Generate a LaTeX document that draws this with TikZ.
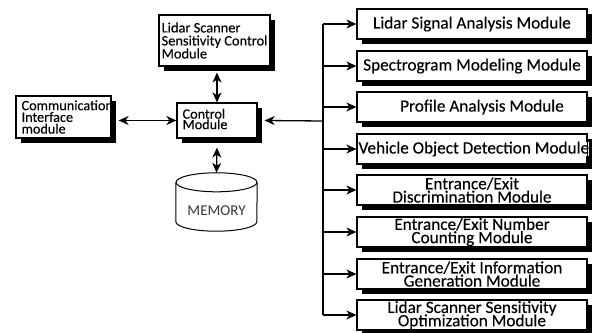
\documentclass[tikz,border=0pt]{standalone}
\usepackage{fontspec}
\setmainfont{Carlito}[FakeBold=0.2]
\newfontfamily\memfont{Carlito}
\usetikzlibrary{arrows.meta,shadows,calc}
\AtBeginDocument{\lineskiplimit=-50pt\relax}
\begin{document}
\begin{tikzpicture}[x=1pt,y=-1pt,
  box/.style={draw, line width=1.2pt, fill=white, inner sep=0pt,
    drop shadow={shadow xshift=5pt, shadow yshift=-5pt, opacity=1, fill=black}},
  modbox/.style={box, minimum width=230pt, minimum height=30pt},
  rtext/.style={font=\fontsize{17.2}{13.3}\selectfont, align=center, inner sep=0pt},
  ltext/.style={align=left, inner sep=0pt, anchor=west},
  link/.style={line width=1.3pt},
  sgl/.style={link, -{Stealth[length=10pt,width=9pt,inset=3pt]}},
  dbl/.style={link, {Stealth[length=10pt,width=9pt,inset=3pt]}-{Stealth[length=10pt,width=9pt,inset=3pt]}}
]
\useasboundingbox (0,0) rectangle (602,332);

% right-hand modules
\foreach \i/\y in {1/24,2/66,3/107,4/149,5/190,6/232,7/274,8/315}
  \node[modbox] (m\i) at (472,\y) {};
\node[rtext] (t1) at (m1) {Lidar Signal Analysis Module};
\node[rtext] (t2) at (m2) {Spectrogram Modeling Module};
\node[rtext] (t3) at ($(m3)+(10,0)$) {Profile Analysis Module};
\node[rtext, anchor=west, fill=white] (t4) at ($(m4.west)+(2,0)$) {Vehicle Object Detection Module};
\draw[line width=1.2pt] (m4.north east) -- (m4.south east);
\node[rtext] (t5) at (m5) {Entrance/Exit\\Discrimination Module};
\node[rtext] (t6) at (m6) {Entrance/Exit Number\\Counting Module};
\node[rtext] (t7) at (m7) {Entrance/Exit Information\\Generation Module};
\node[rtext] (t8) at (m8) {Lidar Scanner Sensitivity\\Optimization Module};

% left-hand boxes
\node[box, minimum width=111pt, minimum height=51pt] (lsc) at (214.5,40.5) {};
\node[ltext, font=\fontsize{14.4}{13}\selectfont] (lsct) at ($(lsc.west)+(3,0)$)
  {Lidar Scanner\\Sensitivity Control\\Module};

\node[box, minimum width=95pt, minimum height=42pt] (comm) at (63.5,117) {};
\begin{scope}
  \clip (comm.north west) rectangle (comm.south east);
  \node[ltext, font=\fontsize{14.2}{11.7}\selectfont] (commt) at ($(comm.west)+(6,0)$)
    {Communication\\Interface\\module};
\end{scope}

\node[box, minimum width=80pt, minimum height=35pt] (ctrl) at (217,120.5) {};
\node[ltext, font=\fontsize{14.2}{10.5}\selectfont] (ctrlt) at ($(ctrl.west)+(6,-1.5)$)
  {Control\\Module};

% memory cylinder
\node[minimum width=81pt, minimum height=58pt, inner sep=0pt] (mem) at (216.5,202) {};
\draw[line width=1pt] ($(mem.north)+(0,9.5)$) ellipse [x radius=40.5pt, y radius=9.5pt];
\draw[line width=1pt] ($(mem.north west)+(0,9.5)$) -- ($(mem.south west)+(0,-9.5)$)
  arc[start angle=180, end angle=360, x radius=40.5pt, y radius=9.5pt]
  -- ($(mem.north east)+(0,9.5)$);
\node[text=black!78, font=\memfont\fontsize{15}{15}\selectfont, inner sep=0pt] (memt) at (216.5,211) {MEMORY};

% connectors
\draw[dbl] ($(ctrl.west -| comm.east)+(7,0)$) -- (ctrl.west);
\draw[dbl] ($(ctrl.north |- lsc.south)+(0,6)$) -- (ctrl.north);
\draw[dbl] ($(ctrl.south)+(0,9)$) -- (mem.north);

\coordinate (bus) at (323,121);
\draw[link] (bus |- m1.west) -- (bus |- m8.west);
\draw[sgl] (bus) -- ($(ctrl.east)+(7,0)$);
\foreach \i in {1,...,8}
  \draw[sgl] (bus |- m\i.west) -- (m\i.west);
\end{tikzpicture}
\end{document}
